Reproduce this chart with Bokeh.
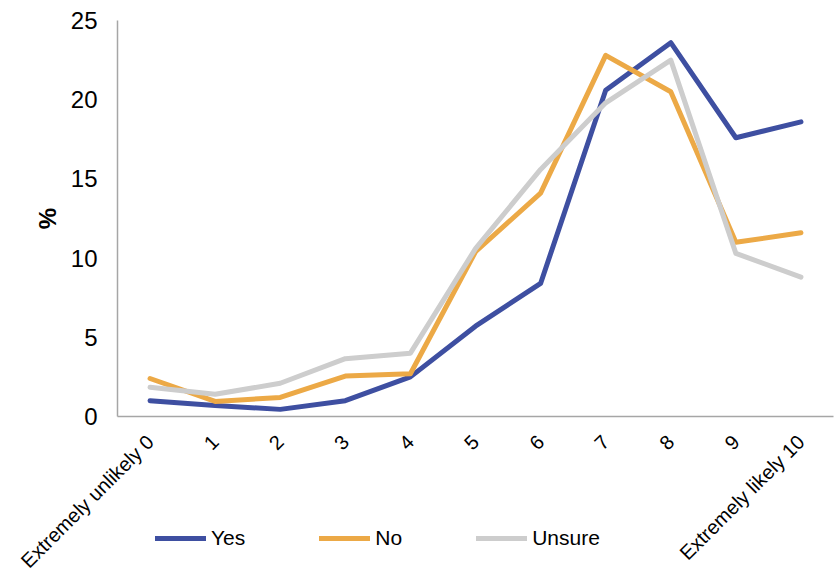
import math
from bokeh.plotting import figure
from bokeh.models import FixedTicker, Legend, LegendItem, Range1d, Label
from bokeh.embed import file_html
from bokeh.resources import INLINE

# Likelihood scale (0-10) and share of respondents (%) per group
scale_points = [0, 1, 2, 3, 4, 5, 6, 7, 8, 9, 10]
x_labels = ["Extremely unlikely 0", "1", "2", "3", "4", "5", "6", "7", "8", "9",
            "Extremely likely 10"]
yes = [1.0, 0.7, 0.45, 1.0, 2.5, 5.7, 8.4, 20.6, 23.6, 17.6, 18.6]
no = [2.4, 0.95, 1.2, 2.55, 2.7, 10.4, 14.1, 22.8, 20.5, 11.0, 11.6]
unsure = [1.85, 1.4, 2.1, 3.65, 4.0, 10.6, 15.6, 19.8, 22.5, 10.3, 8.8]
y_ticks = [0, 5, 10, 15, 20, 25]

series = [("Yes", yes, "#3E4FA1"), ("No", no, "#ECA946"), ("Unsure", unsure, "#CDCDCD")]

FONT = "Liberation Sans"
AXIS_COLOR = "#A6A6A6"

# Page geometry (pixels). The frame spans the whole page so that the category
# labels and the legend underneath are drawn inside it; both axes are pinned.
W, H = 837, 575
AX_LEFT, AX_RIGHT = 117, 833      # category band from -0.5 to 10.5
AX_TOP, AX_ZERO = 20, 416         # value 25 and value 0
px_x = (AX_RIGHT - AX_LEFT) / 11.0
px_y = (AX_ZERO - AX_TOP) / 25.0
x_start = -0.5 - AX_LEFT / px_x
x_end = 10.5 + (W - AX_RIGHT) / px_x
y_end = 25 + AX_TOP / px_y
y_start = -(H - AX_ZERO) / px_y

p = figure(
    x_range=Range1d(x_start, x_end),
    y_range=Range1d(y_start, y_end),
    width=W, height=H,
    min_border_left=0, min_border_right=0, min_border_top=0, min_border_bottom=0,
    frame_width=W, frame_height=H,
    output_backend="svg", toolbar_location=None,
)
p.outline_line_color = None
p.grid.grid_line_color = None
p.background_fill_color = "white"
p.border_fill_color = "white"

items = []
for name, vals, color in series:
    r = p.line(scale_points, vals, line_color=color, line_width=5,
               line_cap="round", line_join="round")
    items.append(LegendItem(label=name, renderers=[r]))

# value axis along the left edge of the category band
ya = p.yaxis[0]
ya.fixed_location = -0.5
ya.ticker = FixedTicker(ticks=y_ticks)
ya.bounds = (0, 25)
ya.axis_line_color = AXIS_COLOR
ya.axis_line_width = 1.5
ya.major_tick_line_color = None
ya.minor_tick_line_color = None
ya.major_tick_out = 0
ya.major_label_standoff = 20
ya.major_label_text_font = FONT
ya.major_label_text_font_size = "24px"
ya.major_label_text_color = "black"

# axis title, centred on the 0-25 span
p.add_layout(Label(
    x=-0.5 - 70 / px_x, y=12.5, text="%", angle=math.pi / 2,
    text_align="center", text_baseline="middle",
    text_font=FONT, text_font_size="24px", text_font_style="bold",
    text_color="black",
))

# category axis along the zero line
xa = p.xaxis[0]
xa.fixed_location = 0
xa.ticker = FixedTicker(ticks=scale_points)
xa.major_label_overrides = {k: lab for k, lab in zip(scale_points, x_labels)}
xa.bounds = (-0.5, 10.5)
xa.axis_line_color = AXIS_COLOR
xa.axis_line_width = 1.5
xa.major_tick_line_color = None
xa.minor_tick_line_color = None
xa.major_tick_out = 0
xa.major_label_orientation = math.pi / 4
xa.major_label_standoff = 22
xa.major_label_text_font = FONT
xa.major_label_text_font_size = "20px"
xa.major_label_text_color = "black"

legend = Legend(
    items=items,
    orientation="horizontal",
    location=(155, 25),
    glyph_width=51,
    glyph_height=20,
    label_standoff=5,
    spacing=74,
    padding=0,
    margin=0,
    border_line_color=None,
    background_fill_alpha=0,
    label_text_font=FONT,
    label_text_font_size="21px",
    label_text_color="black",
)
p.add_layout(legend, "center")

open("out.html", "w").write(file_html(p, INLINE))
